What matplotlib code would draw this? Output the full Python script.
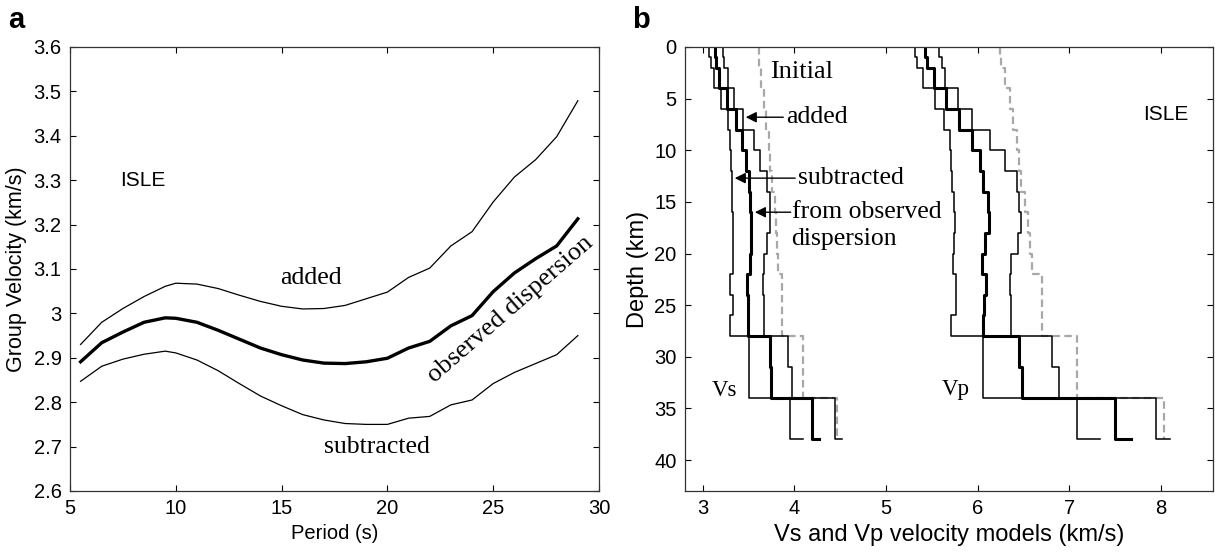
import numpy as np
import matplotlib
matplotlib.use("Agg")
import matplotlib.pyplot as plt

plt.rcParams['font.family'] = ['Liberation Sans', 'DejaVu Sans']

# panel a: group velocity dispersion (km/s) vs period (s)
periods = [5.5, 6.5, 7.5, 8.5, 9.5, 10, 11, 12, 13, 14, 15, 16, 17, 18, 19,
           20, 21, 22, 23, 24, 25, 26, 27, 28, 29]
u_obs = [2.891, 2.934, 2.958, 2.980, 2.990, 2.989, 2.980, 2.962, 2.942, 2.922,
         2.907, 2.895, 2.888, 2.887, 2.891, 2.899, 2.922, 2.937, 2.972, 2.995,
         3.049, 3.091, 3.123, 3.152, 3.213]
u_add = [2.930, 2.980, 3.011, 3.038, 3.061, 3.068, 3.066, 3.056, 3.041, 3.027,
         3.016, 3.010, 3.011, 3.018, 3.033, 3.048, 3.081, 3.102, 3.152, 3.184,
         3.251, 3.307, 3.346, 3.398, 3.479]
u_sub = [2.847, 2.881, 2.897, 2.908, 2.915, 2.911, 2.895, 2.871, 2.842, 2.814,
         2.792, 2.772, 2.760, 2.752, 2.750, 2.750, 2.764, 2.768, 2.794, 2.805,
         2.842, 2.867, 2.887, 2.907, 2.950]

# panel b: layered models, layer tops (km), model bottom, velocities (km/s)
layer_tops = [0, 1, 2, 4, 6, 8, 10, 12, 14, 16, 18, 20, 22, 24, 26, 28, 31, 34]
model_bottom = 38
vs_init = [3.61, 3.62, 3.64, 3.67, 3.69, 3.72, 3.74, 3.76, 3.79, 3.80, 3.81,
           3.82, 3.87, 3.87, 3.87, 4.10, 4.10, 4.47]
vs_sub = [3.07, 3.09, 3.12, 3.20, 3.28, 3.30, 3.31, 3.32, 3.32, 3.33, 3.33,
          3.33, 3.30, 3.335, 3.30, 3.51, 3.51, 3.95]
vs_obs = [3.135, 3.15, 3.18, 3.26, 3.36, 3.43, 3.47, 3.51, 3.52, 3.53, 3.525,
          3.515, 3.48, 3.50, 3.50, 3.735, 3.745, 4.19]
vs_add = [3.22, 3.23, 3.28, 3.34, 3.44, 3.56, 3.63, 3.70, 3.735, 3.735, 3.70,
          3.67, 3.655, 3.665, 3.665, 3.935, 3.98, 4.44]
vp_init = [6.24, 6.26, 6.30, 6.35, 6.39, 6.43, 6.45, 6.47, 6.52, 6.55, 6.57,
           6.59, 6.70, 6.70, 6.70, 7.09, 7.09, 8.03]
vp_sub = [5.32, 5.34, 5.40, 5.54, 5.63, 5.70, 5.71, 5.72, 5.74, 5.75, 5.745,
          5.73, 5.77, 5.76, 5.71, 6.06, 6.06, 7.09]
vp_obs = [5.43, 5.45, 5.52, 5.66, 5.80, 5.94, 6.03, 6.06, 6.11, 6.12, 6.08,
          6.05, 6.09, 6.07, 6.06, 6.45, 6.49, 7.50]
vp_add = [5.58, 5.61, 5.65, 5.79, 5.94, 6.14, 6.30, 6.43, 6.45, 6.47, 6.44,
          6.37, 6.35, 6.36, 6.36, 6.81, 6.89, 7.95]
# half-space velocities, drawn as the short tail at the model bottom
half = {'vs_init': 4.47, 'vs_sub': 4.10, 'vs_obs': 4.27, 'vs_add': 4.52,
        'vp_init': 8.03, 'vp_sub': 7.34, 'vp_obs': 7.67, 'vp_add': 8.10}


def profile(vals, hs):
    edges = np.append(layer_tops, model_bottom)
    z = np.repeat(edges, 2)[1:-1]
    v = np.repeat(vals, 2)
    return np.append(v, hs), np.append(z, model_bottom)


SERIF = ['Liberation Serif', 'DejaVu Serif']
W, H = 1215, 552
fig = plt.figure(figsize=(W / 100, H / 100), dpi=100)
axa = fig.add_axes([70 / W, 61 / H, 529 / W, 444 / H])
axb = fig.add_axes([685 / W, 61 / H, 528 / W, 444 / H])

for ax in (axa, axb):
    ax.tick_params(direction='in', top=True, right=True, length=4,
                   labelsize=14.5, pad=6)
    for s in ax.spines.values():
        s.set_linewidth(0.9)
        s.set_color('#333333')

# ---- panel a
axa.plot(periods, u_add, color='k', lw=0.9)
axa.plot(periods, u_sub, color='k', lw=0.9)
axa.plot(periods, u_obs, color='k', lw=2.4)
axa.set_xlim(5, 30)
axa.set_ylim(2.6, 3.6)
axa.set_xticks(np.arange(5, 31, 5))
axa.set_yticks(np.arange(2.6, 3.61, 0.1))
axa.set_yticklabels(['%g' % round(t, 1) for t in np.arange(2.6, 3.61, 0.1)])
axa.set_xlabel('Period (s)', fontsize=14.5, labelpad=4)
axa.set_ylabel('Group Velocity (km/s)', fontsize=15.5, labelpad=5)
axa.text(8.45, 3.30, 'ISLE', fontsize=15, ha='center', va='center')
axa.text(16.4, 3.08, 'added', family=SERIF, fontsize=18.5,
         ha='center', va='center')
axa.text(19.5, 2.70, 'subtracted', family=SERIF, fontsize=18.5,
         ha='center', va='center')
axa.text(25.8, 3.01, 'observed dispersion', family=SERIF, fontsize=19,
         ha='center', va='center', rotation=41)

# ---- panel b
dash = (3.4, 1.9)
for key, vals in (('vs_init', vs_init), ('vp_init', vp_init)):
    v, z = profile(vals, half[key])
    axb.plot(v, z, color='#a8a8a8', lw=1.6, dashes=dash)
for key, vals in (('vs_sub', vs_sub), ('vs_add', vs_add),
                  ('vp_sub', vp_sub), ('vp_add', vp_add)):
    v, z = profile(vals, half[key])
    axb.plot(v, z, color='k', lw=1.1)
for key, vals in (('vs_obs', vs_obs), ('vp_obs', vp_obs)):
    v, z = profile(vals, half[key])
    axb.plot(v, z, color='k', lw=2.2)

axb.set_xlim(2.807, 8.57)
axb.set_ylim(43, 0)
axb.set_xticks(np.arange(3, 9))
axb.set_yticks(np.arange(0, 41, 5))
axb.set_xlabel('Vs and Vp velocity models (km/s)', fontsize=17, labelpad=4)
axb.set_ylabel('Depth (km)', fontsize=17, labelpad=4)

axb.text(3.735, 2.4, 'Initial', family=SERIF, fontsize=19, ha='left',
         va='center')
arrow = dict(arrowstyle='-|>', color='k', lw=1.0, mutation_scale=16,
             shrinkA=0, shrinkB=0)
axb.annotate('added', xy=(3.47, 6.8), xytext=(3.91, 6.8), family=SERIF,
             fontsize=18.5, ha='left', va='center', arrowprops=arrow)
axb.annotate('subtracted', xy=(3.35, 12.7), xytext=(4.04, 12.7),
             family=SERIF, fontsize=18.5, ha='left', va='center',
             arrowprops=arrow)
axb.annotate('', xy=(3.57, 16.0), xytext=(3.96, 16.0), arrowprops=arrow)
axb.text(3.97, 16.0, 'from observed', family=SERIF, fontsize=18.5,
         ha='left', va='center')
axb.text(3.97, 18.6, 'dispersion', family=SERIF, fontsize=18.5,
         ha='left', va='center')
axb.text(3.24, 33.3, 'Vs', family=SERIF, fontsize=16.5, ha='center',
         va='center')
axb.text(5.76, 33.2, 'Vp', family=SERIF, fontsize=16.5, ha='center',
         va='center')
axb.text(8.05, 6.5, 'ISLE', fontsize=15, ha='center', va='center')

fig.text(16 / W, 1 - 20 / H, 'a', fontsize=21, fontweight='bold',
         ha='center', va='center')
fig.text(641 / W, 1 - 20 / H, 'b', fontsize=21, fontweight='bold',
         ha='center', va='center')

fig.savefig('out.png', dpi=100)
